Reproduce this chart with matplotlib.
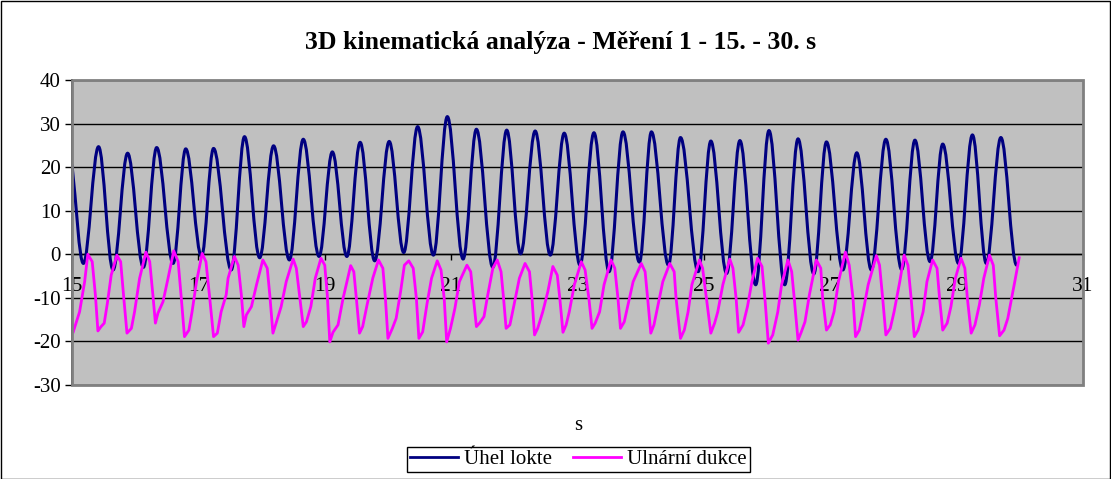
import numpy as np
import matplotlib
matplotlib.use("Agg")
import matplotlib.pyplot as plt
from matplotlib.path import Path
from matplotlib.patches import PathPatch, Rectangle
from matplotlib.lines import Line2D

plt.rcParams['font.family'] = ['Liberation Serif', 'DejaVu Serif']
plt.rcParams['axes.unicode_minus'] = False

# Úhel lokte - extremes (time s, angle)
blue_t = [15.00, 15.18, 15.42, 15.65, 15.88, 16.13, 16.34, 16.60, 16.80, 17.05,
          17.24, 17.52, 17.73, 17.97, 18.19, 18.44, 18.66, 18.91, 19.12, 19.35,
          19.56, 19.79, 20.02, 20.25, 20.47, 20.72, 20.94, 21.19, 21.40, 21.66,
          21.88, 22.10, 22.33, 22.57, 22.79, 23.04, 23.26, 23.50, 23.72, 23.98,
          24.17, 24.44, 24.63, 24.91, 25.11, 25.36, 25.57, 25.82, 26.03, 26.28,
          26.49, 26.74, 26.94, 27.20, 27.42, 27.65, 27.88, 28.13, 28.34, 28.58,
          28.78, 29.03, 29.25, 29.47, 29.70, 29.95]
blue_v = [20.5, -2.1, 24.7, -3.6, 23.2, -3.0, 24.5, -2.1, 24.2, -0.5,
          24.3, -3.6, 27.0, -0.8, 24.9, -1.3, 26.4, -0.5, 23.5, -0.5,
          25.7, -1.5, 25.9, 0.4, 29.3, -0.2, 31.6, -1.1, 28.7, -3.0,
          28.5, 0.1, 28.3, -0.2, 27.8, -2.5, 27.9, -4.0, 28.1, -1.8,
          28.1, -2.5, 26.8, -4.0, 26.0, -4.4, 26.1, -7.0, 28.4, -7.0,
          26.5, -4.5, 25.8, -3.6, 23.3, -3.6, 26.4, -3.5, 26.2, -1.7,
          25.3, -2.1, 27.4, -2.1, 26.8, -2.5]

# Ulnární dukce
mag_t = [15.02, 15.12, 15.20, 15.25, 15.32, 15.37, 15.41, 15.46, 15.51, 15.56,
         15.62, 15.71, 15.77, 15.82, 15.87, 15.94, 15.99, 16.07, 16.17, 16.23,
         16.28, 16.32, 16.36, 16.44, 16.52, 16.61, 16.68, 16.73, 16.78, 16.85,
         16.90, 16.97, 17.06, 17.12, 17.18, 17.24, 17.30, 17.36, 17.44, 17.47,
         17.57, 17.63, 17.68, 17.72, 17.76, 17.84, 17.92, 18.02, 18.09, 18.13,
         18.18, 18.23, 18.31, 18.39, 18.50, 18.55, 18.60, 18.66, 18.71, 18.78,
         18.85, 18.94, 19.00, 19.04, 19.08, 19.13, 19.21, 19.29, 19.41, 19.46,
         19.50, 19.55, 19.60, 19.67, 19.76, 19.85, 19.92, 19.96, 20.00, 20.07,
         20.13, 20.20, 20.26, 20.33, 20.40, 20.45, 20.49, 20.55, 20.62, 20.69,
         20.78, 20.84, 20.89, 20.93, 20.99, 21.06, 21.13, 21.25, 21.31, 21.36,
         21.40, 21.45, 21.52, 21.58, 21.66, 21.73, 21.79, 21.83, 21.87, 21.93,
         21.99, 22.08, 22.17, 22.24, 22.28, 22.32, 22.37, 22.45, 22.53, 22.61,
         22.68, 22.72, 22.77, 22.82, 22.87, 22.95, 23.06, 23.12, 23.18, 23.23,
         23.28, 23.35, 23.42, 23.53, 23.59, 23.64, 23.68, 23.74, 23.80, 23.88,
         24.01, 24.07, 24.11, 24.16, 24.21, 24.27, 24.35, 24.46, 24.53, 24.56,
         24.63, 24.69, 24.75, 24.81, 24.93, 24.98, 25.04, 25.11, 25.17, 25.22,
         25.30, 25.41, 25.46, 25.51, 25.55, 25.62, 25.69, 25.76, 25.85, 25.92,
         25.97, 26.02, 26.09, 26.17, 26.23, 26.33, 26.39, 26.43, 26.49, 26.54,
         26.60, 26.67, 26.78, 26.85, 26.88, 26.94, 27.00, 27.06, 27.13, 27.24,
         27.30, 27.36, 27.40, 27.46, 27.52, 27.60, 27.73, 27.78, 27.83, 27.88,
         27.95, 28.01, 28.10, 28.17, 28.23, 28.28, 28.33, 28.39, 28.47, 28.53,
         28.62, 28.69, 28.73, 28.78, 28.85, 28.91, 28.98, 29.07, 29.13, 29.17,
         29.23, 29.29, 29.36, 29.43, 29.52, 29.58, 29.62, 29.68, 29.75, 29.81,
         29.92, 29.99]
mag_v = [-17.8, -13.2, -6.3, 0.0, -1.7, -9.3, -17.6, -16.6, -15.8, -11.2,
         -4.8, -0.2, -1.7, -10.1, -18.1, -17.0, -13.2, -5.5, 0.5, -1.7,
         -9.3, -15.8, -13.5, -10.9, -5.5, 0.8, -1.7, -10.1, -18.9, -17.4,
         -13.2, -6.3, 0.2, -1.7, -10.1, -18.9, -18.1, -13.2, -9.3, -5.5,
         -0.5, -2.5, -9.3, -16.6, -13.9, -12.0, -7.0, -1.3, -3.2, -9.3,
         -18.1, -15.8, -12.0, -6.3, -1.1, -3.2, -9.3, -16.6, -15.5, -12.0,
         -5.5, -0.9, -2.5, -9.3, -20.1, -17.9, -16.2, -10.1, -2.6, -4.0,
         -10.1, -18.1, -16.6, -11.6, -5.5, -1.3, -3.2, -10.1, -19.3, -17.0,
         -14.7, -8.6, -2.5, -1.5, -3.2, -10.1, -19.3, -17.8, -11.2, -5.5,
         -1.5, -3.6, -10.1, -20.1, -17.0, -12.4, -6.3, -2.5, -4.0, -10.9,
         -16.6, -15.8, -14.3, -9.3, -3.2, -1.3, -4.0, -10.1, -17.0, -16.2,
         -12.0, -5.5, -2.1, -4.0, -10.1, -18.5, -17.0, -13.2, -8.6, -2.8,
         -4.8, -10.1, -17.9, -16.2, -13.2, -7.0, -1.7, -3.6, -10.1, -17.0,
         -15.8, -13.2, -7.0, -1.3, -3.2, -10.1, -17.0, -15.5, -11.6, -6.3,
         -2.1, -4.0, -10.1, -18.1, -16.2, -12.0, -6.3, -2.1, -4.0, -10.1,
         -19.3, -17.4, -13.2, -7.0, -1.3, -3.2, -10.1, -18.1, -15.8, -13.2,
         -7.0, -1.1, -3.2, -10.1, -17.9, -16.2, -12.0, -6.3, -0.9, -2.8,
         -10.9, -20.4, -18.5, -13.2, -7.0, -1.3, -4.0, -10.1, -19.7, -17.9,
         -15.5, -9.3, -1.3, -3.2, -10.1, -17.4, -16.2, -13.2, -6.3, 0.5,
         -2.5, -10.1, -18.9, -17.4, -13.2, -7.0, -0.3, -2.5, -10.1, -18.5,
         -17.0, -13.2, -6.3, -0.2, -2.5, -10.1, -18.9, -17.4, -13.2, -6.3,
         -1.3, -3.2, -10.1, -17.4, -15.8, -12.0, -5.5, -0.9, -3.2, -10.1,
         -18.1, -16.2, -11.6, -5.5, -0.2, -2.5, -10.1, -18.7, -17.4, -14.7,
         -6.3, -0.8]

x_ticks = [15, 17, 19, 21, 23, 25, 27, 29, 31]
y_ticks = [-30, -20, -10, 0, 10, 20, 30, 40]

BLUE = '#000080'
MAGENTA = '#FF00FF'

fig = plt.figure(figsize=(11.11, 4.79), dpi=100)
ax = fig.add_axes([72 / 1111, 1 - 385 / 479, 1011 / 1111, 305 / 479])
ax.set_facecolor('#C0C0C0')
ax.set_xlim(15, 31)
ax.set_ylim(-30, 40)

for y in y_ticks:
    ax.axhline(y, color='black', lw=1, zorder=1)

# smoothed line through the extremes (like Excel smoothing)
k = 0.36
verts = [(blue_t[0], blue_v[0])]
codes = [Path.MOVETO]
for i in range(len(blue_t) - 1):
    t0, v0, t1, v1 = blue_t[i], blue_v[i], blue_t[i + 1], blue_v[i + 1]
    dt = t1 - t0
    c0 = v0 + (v1 - v0) * k if i == 0 else v0
    verts += [(t0 + k * dt, c0), (t1 - k * dt, v1), (t1, v1)]
    codes += [Path.CURVE4] * 3
ax.add_patch(PathPatch(Path(verts, codes), facecolor='none', edgecolor=BLUE,
                       lw=2.2, zorder=3, capstyle='round', joinstyle='round'))

ax.plot(mag_t, mag_v, color=MAGENTA, lw=2.0, zorder=4,
        solid_joinstyle='round')

# axes
for s in ['top', 'right']:
    ax.spines[s].set_visible(False)
ax.spines['bottom'].set_position(('data', 0))
ax.spines['bottom'].set_color('black')
ax.spines['bottom'].set_linewidth(1)
ax.spines['left'].set_color('black')
ax.spines['left'].set_linewidth(1.2)
ax.add_patch(Rectangle((0, 0), 1, 1, transform=ax.transAxes, fill=False,
                       edgecolor='#808080', lw=2, clip_on=False, zorder=5))

ax.set_xticks(x_ticks)
ax.set_yticks(y_ticks)
ax.tick_params(axis='x', direction='out', length=4, width=1, pad=12,
               labelsize=15.5)
ax.tick_params(axis='y', direction='out', length=5, width=1, pad=3,
               labelsize=15)

fig.text(561 / 1111, 1 - 42 / 479, '3D kinematická analýza - Měření 1 - 15. - 30. s',
         ha='center', va='center', fontsize=18.5, fontweight='bold')
fig.text(578 / 1111, 1 - 425 / 479, 's', ha='center', va='center', fontsize=15)

handles = [Line2D([], [], color=BLUE, lw=2), Line2D([], [], color=MAGENTA, lw=2)]
leg = fig.legend(handles, ['Úhel lokte', 'Ulnární dukce'], ncol=2, loc='center',
                 bbox_to_anchor=(578.5 / 1111, 1 - 459.5 / 479), fontsize=15,
                 frameon=True, fancybox=False, edgecolor='black', framealpha=1,
                 borderpad=0.15, handlelength=2.3, handletextpad=0.3,
                 columnspacing=1.0)
leg.get_frame().set_linewidth(1)

fig.patches.append(Rectangle((0.0005, 0.001), 0.9985, 0.997, transform=fig.transFigure,
                             fill=False, edgecolor='black', lw=1))

fig.savefig('out.png', dpi=100)
